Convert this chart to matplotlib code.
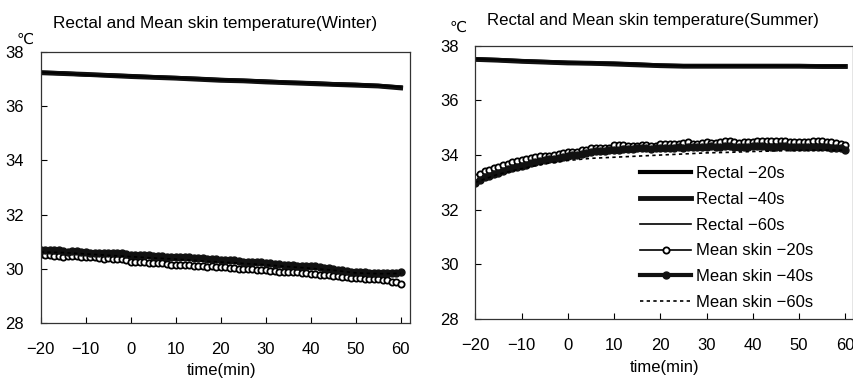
import numpy as np
import matplotlib
matplotlib.use("Agg")
import matplotlib.pyplot as plt

plt.rcParams['font.family'] = ['Liberation Sans', 'DejaVu Sans']

# time axes (min)
t1 = np.arange(-20, 61, 1)
t5 = np.arange(-20, 61, 5)

# Winter
w_rectal_20 = [37.25, 37.22, 37.17, 37.15, 37.12, 37.08, 37.05, 37.02, 36.98, 36.95, 36.92, 36.88, 36.86, 36.82, 36.80, 36.76, 36.70]
w_rectal_40 = [37.24, 37.21, 37.18, 37.14, 37.10, 37.07, 37.04, 37.00, 36.96, 36.94, 36.90, 36.87, 36.84, 36.81, 36.78, 36.75, 36.68]
w_rectal_60 = [37.26, 37.22, 37.16, 37.13, 37.11, 37.09, 37.05, 37.01, 36.97, 36.95, 36.91, 36.89, 36.85, 36.80, 36.79, 36.77, 36.71]
w_skin_20 = [30.55, 30.50, 30.50, 30.49, 30.47, 30.44, 30.48, 30.47, 30.46, 30.44,
             30.43, 30.42, 30.43, 30.40, 30.38, 30.39, 30.38, 30.37, 30.36, 30.33,
             30.27, 30.26, 30.26, 30.25, 30.22, 30.20, 30.21, 30.20, 30.19, 30.16,
             30.14, 30.15, 30.14, 30.15, 30.12, 30.10, 30.09, 30.08, 30.09, 30.08,
             30.07, 30.06, 30.04, 30.02, 30.00, 30.00, 29.99, 30.00, 29.97, 29.96,
             29.95, 29.93, 29.92, 29.90, 29.89, 29.88, 29.87, 29.88, 29.86, 29.84,
             29.80, 29.81, 29.79, 29.78, 29.76, 29.74, 29.73, 29.71, 29.70, 29.68,
             29.66, 29.65, 29.63, 29.63, 29.62, 29.61, 29.60, 29.57, 29.53, 29.50,
             29.43]
w_skin_40 = [30.69, 30.70, 30.68, 30.70, 30.69, 30.66, 30.64, 30.66, 30.65, 30.62,
             30.61, 30.60, 30.60, 30.59, 30.57, 30.58, 30.58, 30.57, 30.57, 30.55,
             30.52, 30.52, 30.51, 30.52, 30.50, 30.47, 30.46, 30.47, 30.45, 30.44,
             30.45, 30.44, 30.45, 30.44, 30.41, 30.40, 30.40, 30.38, 30.36, 30.35,
             30.33, 30.31, 30.31, 30.32, 30.30, 30.27, 30.26, 30.26, 30.24, 30.25,
             30.23, 30.20, 30.19, 30.18, 30.16, 30.15, 30.13, 30.12, 30.12, 30.10,
             30.09, 30.10, 30.07, 30.04, 30.02, 30.00, 29.97, 29.95, 29.93, 29.90,
             29.88, 29.87, 29.87, 29.86, 29.86, 29.85, 29.85, 29.84, 29.84, 29.86,
             29.89]
w_skin_60 = [30.62, 30.60, 30.55, 30.50, 30.45, 30.40, 30.36, 30.30, 30.25, 30.20, 30.15, 30.08, 30.02, 29.95, 29.85, 29.82, 29.83]

# Summer
s_rectal_20 = [37.51, 37.48, 37.44, 37.41, 37.38, 37.36, 37.35, 37.32, 37.28, 37.26, 37.26, 37.26, 37.26, 37.26, 37.26, 37.25, 37.25]
s_rectal_40 = [37.50, 37.47, 37.43, 37.40, 37.37, 37.36, 37.33, 37.30, 37.27, 37.25, 37.25, 37.25, 37.25, 37.25, 37.25, 37.24, 37.24]
s_rectal_60 = [37.52, 37.49, 37.45, 37.42, 37.39, 37.37, 37.36, 37.32, 37.29, 37.27, 37.27, 37.27, 37.27, 37.27, 37.26, 37.26, 37.26]
s_skin_20 = [33.20, 33.32, 33.40, 33.46, 33.52, 33.58, 33.63, 33.68, 33.73, 33.78,
             33.83, 33.85, 33.88, 33.92, 33.95, 33.97, 33.98, 34.00, 34.05, 34.08,
             34.12, 34.12, 34.13, 34.17, 34.20, 34.24, 34.27, 34.25, 34.26, 34.27,
             34.35, 34.36, 34.35, 34.34, 34.33, 34.34, 34.36, 34.35, 34.33, 34.34,
             34.40, 34.41, 34.39, 34.40, 34.42, 34.44, 34.47, 34.42, 34.41, 34.44,
             34.46, 34.44, 34.45, 34.48, 34.50, 34.50, 34.47, 34.45, 34.46, 34.48,
             34.47, 34.50, 34.52, 34.51, 34.52, 34.51, 34.52, 34.51, 34.49, 34.48,
             34.46, 34.47, 34.48, 34.50, 34.52, 34.51, 34.47, 34.46, 34.44, 34.42,
             34.37]
s_skin_40 = [32.98, 33.10, 33.18, 33.25, 33.30, 33.36, 33.42, 33.48, 33.53, 33.56,
             33.60, 33.64, 33.70, 33.75, 33.80, 33.83, 33.85, 33.87, 33.90, 33.94,
             33.98, 34.00, 34.02, 34.04, 34.06, 34.10, 34.14, 34.15, 34.16, 34.17,
             34.18, 34.20, 34.22, 34.21, 34.22, 34.24, 34.25, 34.24, 34.23, 34.24,
             34.25, 34.27, 34.26, 34.27, 34.28, 34.27, 34.29, 34.30, 34.28, 34.29,
             34.30, 34.32, 34.30, 34.31, 34.33, 34.32, 34.30, 34.29, 34.30, 34.31,
             34.32, 34.33, 34.32, 34.31, 34.30, 34.31, 34.32, 34.33, 34.31, 34.30,
             34.28, 34.29, 34.30, 34.31, 34.30, 34.29, 34.28, 34.27, 34.26, 34.24,
             34.20]
s_skin_60 = [33.00, 33.30, 33.50, 33.68, 33.80, 33.88, 33.92, 33.96, 34.00, 34.04, 34.08, 34.10, 34.13, 34.15, 34.17, 34.18, 34.18]

labels = ["Rectal \u221220s", "Rectal \u221240s", "Rectal \u221260s",
          "Mean skin \u221220s", "Mean skin \u221240s", "Mean skin \u221260s"]

fig = plt.figure(figsize=(8.54, 3.78), dpi=100)
ax1 = fig.add_axes([0.0477, 0.1455, 0.4325, 0.7165])
ax2 = fig.add_axes([0.5565, 0.156, 0.442, 0.723])


def draw(ax, r20, r40, r60, s20, s40, s60, xmax):
    ax.plot(t5, r20, color='black', lw=3.0, label=labels[0])
    ax.plot(t5, r40, color='#111111', lw=3.5, label=labels[1])
    ax.plot(t5, r60, color='black', lw=1.2, label=labels[2])
    ax.plot(t1, s20, color='black', lw=1.2, marker='o', ms=4.5, mfc='white',
            mec='black', mew=1.3, label=labels[3])
    ax.plot(t1, s40, color='#111111', lw=3.0, marker='o', ms=5, mfc='#111111',
            mec='#111111', label=labels[4])
    ax.plot(t5, s60, color='black', lw=1.2, ls=(0, (2, 2)), label=labels[5])
    ax.set_xlim(-20, xmax)
    ax.set_ylim(28, 38)
    ax.set_xticks(range(-20, 61, 10))
    ax.set_yticks(range(28, 39, 2))
    ax.tick_params(direction='in', length=4, width=0.8, labelsize=12,
                   top=False, right=False)
    ax.tick_params(axis='x', pad=14)
    ax.tick_params(axis='y', pad=12)
    for s in ax.spines.values():
        s.set_linewidth(0.9)
        s.set_color('#333333')


draw(ax1, w_rectal_20, w_rectal_40, w_rectal_60, w_skin_20, w_skin_40, w_skin_60, 62.1)
draw(ax2, s_rectal_20, s_rectal_40, s_rectal_60, s_skin_20, s_skin_40, s_skin_60, 61.6)

ax2.legend(loc='upper left', bbox_to_anchor=(0.436, 0.56), frameon=False,
           borderpad=0, borderaxespad=0, fontsize=12, handlelength=3.1,
           handletextpad=0.25, labelspacing=0.65)

fig.text(0.252, 0.939, "Rectal and Mean skin temperature(Winter)", ha='center', va='center', fontsize=12.3)
fig.text(0.765, 0.947, "Rectal and Mean skin temperature(Summer)", ha='center', va='center', fontsize=12.1)
fig.text(0.26, 0.021, "time(min)", ha='center', va='center', fontsize=12)
fig.text(0.778, 0.028, "time(min)", ha='center', va='center', fontsize=12)
fig.text(0.03, 0.895, "\u2103", ha='center', va='center', fontsize=11)
fig.text(0.537, 0.926, "\u2103", ha='center', va='center', fontsize=11)

fig.savefig("out.png", dpi=100)
